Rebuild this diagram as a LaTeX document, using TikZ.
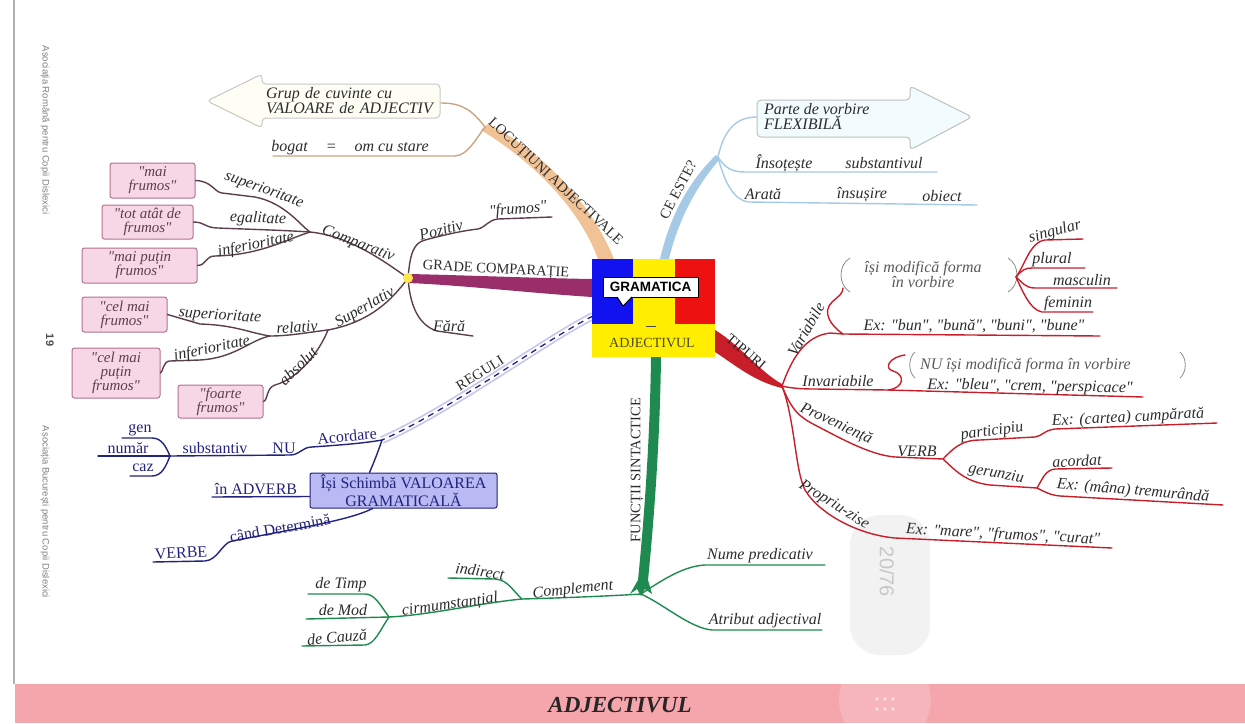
\documentclass[tikz,border=0pt]{standalone}
\usepackage{fontspec}
\setmainfont{Liberation Serif}[Ligatures=TeXOff]
\newfontfamily\sidefont{Liberation Sans}
\usetikzlibrary{calc}

\definecolor{locColor}{HTML}{F0C296}
\definecolor{ceColor}{HTML}{A6CAE6}
\definecolor{gradeColor}{HTML}{9A2E6B}
\definecolor{cmpColor}{HTML}{5C3F4C}
\definecolor{ruleColor}{HTML}{22227F}
\definecolor{ruleBand}{HTML}{C6C6EE}
\definecolor{funcGreen}{HTML}{1F8A4F}
\definecolor{tipColor}{HTML}{C81E2A}
\definecolor{labelGray}{HTML}{2C2C2C}
\definecolor{pinkFill}{HTML}{F7D6E6}
\definecolor{pinkDraw}{HTML}{B2728F}
\definecolor{boxBlue}{HTML}{B9B9F3}
\definecolor{flagBlue}{HTML}{1212F0}
\definecolor{flagYellow}{HTML}{FFEE00}
\definecolor{flagRed}{HTML}{EE1111}
\definecolor{footerPink}{HTML}{F5A5AC}

\tikzset{
  lbl/.style={font=\fontsize{16}{15}\selectfont\itshape, text=labelGray, inner sep=0pt},
  capLbl/.style={font=\fontsize{14.5}{14}\selectfont, text=labelGray, inner sep=0pt},
  ruleLbl/.style={font=\fontsize{16}{15}\selectfont, text=ruleColor, inner sep=0pt},
  subLine/.style={line width=1.4pt, line cap=round},
  locLine/.style={subLine, draw=locColor!85!black},
  ceLine/.style={subLine, draw=ceColor},
  cmpLine/.style={subLine, draw=cmpColor},
  ruleLine/.style={subLine, draw=ruleColor},
  funcLine/.style={subLine, draw=funcGreen},
  tipLine/.style={subLine, draw=tipColor},
  braceLine/.style={line width=0.8pt, draw=black!45},
  exampleBox/.style={draw=pinkDraw, fill=pinkFill, rounded corners=2.5pt, line width=1pt,
    align=center, inner sep=0pt, font=\fontsize{15}{14}\selectfont\itshape, text=cmpColor},
  sideText/.style={rotate=-90, font=\sidefont\fontsize{9.5}{9.5}\selectfont, text=black!50}
}

\begin{document}
\begin{tikzpicture}[x=1pt, y=-1pt]
\useasboundingbox (0,0) rectangle (1245,723);

% page margin, footer and viewer overlay
\draw[black!30, line width=1.5pt] (14,0) -- (14,684);
\fill[footerPink] (15,684) rectangle (1245,723);
\fill[white, opacity=0.18] (885,700) circle[radius=46pt];
\foreach \dx in {-8,0,8}{
  \foreach \dy in {-5,5}{
    \fill[white, opacity=0.6] (885+\dx,704+\dy) circle[radius=1.8pt];
  }
}
\node[font=\fontsize{23}{23}\selectfont\bfseries\itshape, text=black!85] (footerTitle) at (620,705) {ADJECTIVUL};
\fill[black!5, rounded corners=30pt] (850,515) rectangle (930,655);
\node[rotate=-90, font=\sidefont\fontsize{20}{20}\selectfont, text=black!22] (pageNo) at (887,572) {20/76};

% side captions
\node[sideText] (assocRo) at (45,130) {Asociația Română pentru Copii Dislexici};
\node[sideText, font=\sidefont\bfseries\fontsize{11}{11}\selectfont, text=black!70] (pageLeft) at (50,340) {19};
\node[sideText] (assocBuc) at (45,512) {Asociația București pentru Copii Dislexici};

% === Thick main branches ===
% Locutiuni
\fill[locColor] (481,130) .. controls (530,160) and (578,205) .. (598,259)
  -- (614,259) .. controls (590,200) and (540,150) .. (488,124) -- cycle;
\node[capLbl, rotate=-43] (locLbl) at (555,182) {LOCUȚIUNI ADJECTIVALE};
% Ce este
\fill[ceColor] (660,259) .. controls (670,215) and (690,180) .. (716,155)
  -- (720,159) .. controls (697,185) and (678,220) .. (669,259) -- cycle;
\node[capLbl, rotate=62] (ceLbl) at (678,190) {CE ESTE?};
% Grade comparatie
\fill[gradeColor] (592,279) .. controls (530,278) and (460,275) .. (408,274)
  -- (408,283) .. controls (460,285) and (530,293) .. (592,297) -- cycle;
\node[capLbl, rotate=-3] (gradeLbl) at (496,270) {GRADE COMPARAȚIE};
% Reguli
\coordinate (ruleA) at (382,440);
\draw[ruleBand, line width=8pt] (593,316) .. controls (545,340) and (450,410) .. (ruleA);
\draw[white, line width=4.5pt] (593,316) .. controls (545,340) and (450,410) .. (ruleA);
\draw[ruleColor, line width=1.3pt, dash pattern=on 6pt off 5pt] (593,316) .. controls (545,340) and (450,410) .. (ruleA);
\node[capLbl, rotate=32] (ruleLbl) at (480,373) {REGULI};
% Functii sintactice
\fill[funcGreen] (651,357) .. controls (650,440) and (644,520) .. (638,580)
  -- (630,594) -- (637,589) -- (641,596) -- (645,589) -- (652,594) -- (648,580)
  .. controls (654,520) and (660,440) .. (661,357) -- cycle;
\node[capLbl, rotate=90] (funcLbl) at (637,470) {FUNCȚII SINTACTICE};
% Tipuri
\fill[tipColor] (715,330) .. controls (740,345) and (760,372) .. (782,384)
  -- (782,388) .. controls (755,382) and (735,365) .. (715,352) -- cycle;
\node[capLbl, rotate=-40, text=black!85] (tipLbl) at (746,352) {TIPURI};

% === Central picture ===
\fill[flagBlue] (592,259) rectangle (633,324);
\fill[flagYellow] (633,259) rectangle (675,324);
\fill[flagRed] (675,259) rectangle (715,324);
\fill[flagYellow] (592,324) rectangle (715,357);
\draw[black!70, line width=1pt] (646,326) -- (656,326);
\node[draw, fill=white, line width=1pt, minimum width=95, minimum height=20, inner sep=0pt,
  font=\sidefont\bfseries\fontsize{13.5}{13.5}\selectfont] (gramBubble) at (650.5,287) {GRAMATICA};
\fill[white] (617,296) -- (623,306) -- (632,296) -- cycle;
\draw[line width=1pt] (617,297) -- (623,306) -- (632,297);
\node[font=\fontsize{14}{14}\selectfont, text=black!60!olive] (centerLbl) at (652,343) {ADJECTIVUL};

% === Locutiuni adjectivale ===
\coordinate (locJ) at (485,127);
\draw[fill=white!96!yellow, draw=black!22, line width=1pt, rounded corners=4pt]
  (207,101) -- (262,74) -- (262,84) -- (440,84) -- (440,118) -- (262,118) -- (262,128) -- cycle;
\node[lbl, text width=172pt, align=left] (grupBox) at (352,101) {Grup de cuvinte cu\\VALOARE de ADJECTIV};
\draw[locLine] (locJ) .. controls (472,110) and (462,103) .. (441,103);
\draw[locLine] (locJ) .. controls (475,140) and (468,155) .. (455,156) -- (273,156);
\node[lbl] (bogatLbl) at (350,148) {bogat\hspace{18pt}=\hspace{18pt}om cu stare};

% === Ce este ===
\coordinate (ceJ) at (718,157);
\draw[fill=white!95!cyan, draw=black!25, line width=1pt, rounded corners=4pt]
  (757,100) -- (910,100) -- (910,86) -- (972,117) -- (910,150) -- (910,137) -- (757,137) -- cycle;
\node[lbl, align=left, anchor=west] (parteBox) at (764,116) {Parte de vorbire\\FLEXIBILĂ};
\draw[ceLine] (ceJ) .. controls (725,125) and (740,117) .. (757,117);
\draw[ceLine] (ceJ) .. controls (725,168) and (732,172) .. (745,172) -- (937,172);
\node[lbl] (insotLbl) at (784,163) {Însoțește};
\node[lbl] (substLbl) at (884,163) {substantivul};
\draw[ceLine] (ceJ) .. controls (725,185) and (735,200) .. (748,202) -- (977,205);
\node[lbl] (arataLbl) at (763,194) {Arată};
\node[lbl] (insusLbl) at (862,195) {însușire};
\node[lbl] (obiectLbl) at (942,196) {obiect};

% === Grade comparatie ===
\coordinate (gradeJ) at (408,278);
\coordinate (cmpC) at (310,232);
\coordinate (supS) at (328,330);
\coordinate (relR) at (270,336);
\draw[cmpLine] (gradeJ) .. controls (410,255) and (413,243) .. (425,240)
  .. controls (440,236) and (460,231) .. (478,229) .. controls (486,227) and (488,220) .. (498,219) -- (552,217);
\node[lbl, rotate=15] (pozLbl) at (441,230) {Pozitiv};
\node[lbl, rotate=5] (pozEx) at (518,210) {"frumos"};
\draw[cmpLine] (gradeJ) .. controls (410,305) and (418,325) .. (437,331) -- (473,336);
\node[lbl] (faraLbl) at (449,326) {Fără};
\draw[cmpLine] (gradeJ) .. controls (385,262) and (350,236) .. (cmpC);
\node[lbl, rotate=-22] (cmpLbl) at (358,244) {Comparativ};
\draw[cmpLine] (gradeJ) .. controls (392,300) and (370,322) .. (supS);
\node[lbl, rotate=30] (supLbl) at (365,308) {Superlativ};

% Comparativ
\node[exampleBox, minimum width=85, minimum height=35] (boxSupC) at (152.5,180.5) {"mai\\frumos"};
\node[exampleBox, minimum width=91, minimum height=34] (boxEgal) at (147.5,222) {"tot atât de\\frumos"};
\node[exampleBox, minimum width=115, minimum height=35] (boxInfC) at (139.5,265.5) {"mai puțin\\frumos"};
\draw[cmpLine] (cmpC) .. controls (300,225) and (285,203) .. (255,197) -- (222,193)
  .. controls (214,192) and (212,181) .. (boxSupC.east);
\node[lbl, rotate=-20] (supCLbl) at (264,190) {superioritate};
\draw[cmpLine] (cmpC) .. controls (280,230) and (240,229) .. (218,228)
  .. controls (205,228) and (205,222) .. (boxEgal.east);
\node[lbl, rotate=-2] (egalLbl) at (258,219) {egalitate};
\draw[cmpLine] (cmpC) .. controls (285,240) and (260,255) .. (215,256)
  .. controls (205,256) and (207,265) .. (boxInfC.east);
\node[lbl, rotate=12] (infCLbl) at (256,245) {inferioritate};

% Superlativ
\node[exampleBox, minimum width=85, minimum height=35] (boxSupR) at (124.5,314.5) {"cel mai\\frumos"};
\node[exampleBox, minimum width=88, minimum height=50] (boxInfR) at (116,373) {"cel mai\\puțin\\frumos"};
\node[exampleBox, minimum width=85, minimum height=33] (boxAbs) at (220.5,401.5) {"foarte\\frumos"};
\draw[cmpLine] (supS) .. controls (310,332) and (290,336) .. (relR);
\node[lbl, rotate=4] (relLbl) at (297,327) {relativ};
\draw[cmpLine] (relR) .. controls (250,333) and (235,325) .. (200,324) -- (boxSupR.east);
\node[lbl, rotate=-4] (supRLbl) at (220,316) {superioritate};
\draw[cmpLine] (relR) .. controls (250,340) and (235,358) .. (200,360) -- (170,361)
  .. controls (163,361) and (163,372) .. (boxInfR.east);
\node[lbl, rotate=12] (infRLbl) at (212,349) {inferioritate};
\draw[cmpLine] (supS) .. controls (320,350) and (300,378) .. (275,385)
  .. controls (266,388) and (268,400) .. (boxAbs.east);
\node[lbl, rotate=45] (absLbl) at (298,366) {absolut};
\fill[yellow!80!orange!70] (gradeJ) circle[radius=5pt];

% === Reguli ===
\coordinate (numN) at (170,456);
\node[ruleLbl, draw=ruleColor, fill=boxBlue, line width=1pt, rounded corners=2pt, align=center,
  minimum width=187, minimum height=35] (valBox) at (403.5,490.5) {Își Schimbă VALOAREA\\GRAMATICALĂ};
\draw[ruleLine] (ruleA) .. controls (360,444) and (325,446) .. (312,447)
  .. controls (302,447) and (300,455) .. (290,455) -- (numN);
\node[ruleLbl, rotate=5] (acordLbl) at (347,436) {Acordare};
\node[ruleLbl] (nuLbl) at (284,448) {NU};
\node[ruleLbl] (substvLbl) at (215,448) {substantiv};
\draw[ruleLine] (numN) .. controls (166,447) and (162,438) .. (152,438) -- (122,438);
\node[ruleLbl] (genLbl) at (140,430) {gen};
\draw[ruleLine] (numN) -- (98,456);
\node[ruleLbl] (numarLbl) at (128,448) {număr};
\draw[ruleLine] (numN) .. controls (166,466) and (162,476) .. (152,476) -- (130,476);
\node[ruleLbl] (cazLbl) at (143,468) {caz};
\draw[ruleLine] (ruleA) .. controls (378,452) and (374,462) .. ($(valBox.north west)+(60,0)$);
\draw[ruleLine] ($(valBox.west)+(0,6)$) -- (212,497);
\node[ruleLbl] (adverbLbl) at (256,489) {în ADVERB};
\draw[ruleLine] ($(valBox.south west)+(63,0)$) .. controls (350,520) and (300,528) .. (232,541)
  .. controls (222,543) and (218,560) .. (205,561) -- (153,562);
\node[ruleLbl, rotate=10] (candLbl) at (280,528) {când Determină};
\node[ruleLbl, rotate=3] (verbeLbl) at (181,553) {VERBE};

% === Functii sintactice ===
\coordinate (funcF) at (641,594);
\coordinate (cmplK) at (522,599);
\coordinate (circM) at (389,617);
\draw[funcLine] (funcF) .. controls (665,578) and (685,566) .. (705,565) -- (825,565);
\node[lbl] (numeLbl) at (760,556) {Nume predicativ};
\draw[funcLine] (funcF) .. controls (665,605) and (690,628) .. (712,630) -- (822,630);
\node[lbl] (atribLbl) at (765,621) {Atribut adjectival};
\draw[funcLine] (funcF) .. controls (610,596) and (560,598) .. (cmplK);
\node[lbl, rotate=6] (cmplLbl) at (573,590) {Complement};
\draw[funcLine] (cmplK) .. controls (512,590) and (508,580) .. (495,579) -- (448,578);
\node[lbl, rotate=-8] (indirLbl) at (480,571) {indirect};
\draw[funcLine] (cmplK) .. controls (480,603) and (430,615) .. (circM);
\node[lbl, rotate=8] (circLbl) at (450,605) {cirmumstanțial};
\draw[funcLine] (circM) .. controls (380,605) and (375,594) .. (365,594) -- (308,594);
\node[lbl] (timpLbl) at (341,585) {de Timp};
\draw[funcLine] (circM) -- (306,619);
\node[lbl] (modLbl) at (343,610) {de Mod};
\draw[funcLine] (circM) .. controls (380,630) and (375,644) .. (365,645) -- (302,646);
\node[lbl, rotate=5] (cauzaLbl) at (337,637) {de Cauză};

% === Tipuri ===
\coordinate (tipT) at (782,386);
\coordinate (varV) at (843,334);
\coordinate (formB) at (1016,277);
\coordinate (invI) at (888,390);
\coordinate (verbG) at (943,459);
\coordinate (gerH) at (1037,488);
% Variabile
\draw[tipLine] (tipT) .. controls (792,358) and (805,336) .. (830,333) -- (varV) -- (1100,336);
\node[lbl, rotate=60] (varLbl) at (806,329) {Variabile};
\node[lbl] (varEx) at (974,326) {Ex: "bun", "bună", "buni", "bune"};
\draw[tipLine] (varV) .. controls (830,325) and (822,312) .. (832,302) .. controls (840,295) and (843,293) .. (843,288);
\draw[braceLine] (850,258) .. controls (838,265) and (838,285) .. (850,292);
\node[lbl, align=center, text=black!65] (formaLbl) at (923,274) {își modifică forma\\în vorbire};
\draw[braceLine] (1008,258) .. controls (1020,265) and (1020,285) .. (1008,292);
\draw[tipLine] (formB) .. controls (1025,265) and (1030,242) .. (1045,240) -- (1083,239);
\node[lbl, rotate=15] (singLbl) at (1055,232) {singular};
\draw[tipLine] (formB) .. controls (1022,270) and (1025,268) .. (1032,268) -- (1085,268);
\node[lbl] (plurLbl) at (1052,260) {plural};
\draw[tipLine] (formB) .. controls (1022,282) and (1025,288) .. (1035,288) -- (1117,288);
\node[lbl] (mascLbl) at (1082,280) {masculin};
\draw[tipLine] (formB) .. controls (1022,290) and (1030,310) .. (1042,312) -- (1093,312);
\node[lbl] (femLbl) at (1068,304) {feminin};
% Invariabile
\draw[tipLine] (tipT) .. controls (790,388) and (800,389) .. (815,389) -- (invI) -- (1143,397);
\node[lbl] (invLbl) at (838,381) {Invariabile};
\draw[tipLine] (invI) .. controls (905,388) and (905,374) .. (893,371) .. controls (883,368) and (890,357) .. (905,355);
\draw[braceLine] (915,352) .. controls (908,358) and (908,372) .. (915,378);
\node[lbl, anchor=west, text=black!65] (nuFormaLbl) at (920,366) {NU își modifică forma în vorbire};
\draw[braceLine] (1180,352) .. controls (1187,358) and (1187,372) .. (1180,378);
\node[lbl, rotate=-1] (invEx) at (1030,387) {Ex: "bleu", "crem, "perspicace"};
% Provenienta
\draw[tipLine] (tipT) .. controls (790,405) and (795,415) .. (815,425)
  .. controls (840,438) and (870,455) .. (895,457) -- (verbG);
\node[lbl, rotate=-25] (provLbl) at (836,424) {Proveniență};
\node[lbl] (verbLbl) at (917,451) {VERB};
\draw[tipLine] (verbG) .. controls (952,450) and (960,440) .. (980,440) -- (1035,437)
  .. controls (1042,436) and (1045,430) .. (1055,429) -- (1217,423);
\node[lbl, rotate=8] (partLbl) at (992,432) {participiu};
\node[lbl, rotate=3] (partEx) at (1128,418) {Ex: (cartea) cumpărată};
\draw[tipLine] (verbG) .. controls (955,470) and (965,482) .. (990,485) -- (gerH);
\node[lbl, rotate=-10] (gerLbl) at (996,474) {gerunziu};
\draw[tipLine] (gerH) .. controls (1042,480) and (1045,470) .. (1055,469) -- (1112,468);
\node[lbl, rotate=3] (acordatLbl) at (1077,461) {acordat};
\draw[tipLine] (gerH) .. controls (1045,492) and (1050,495) .. (1060,496) -- (1223,505);
\node[lbl, rotate=-5] (gerEx) at (1133,491) {Ex: (mâna) tremurândă};
% Propriu-zise
\draw[tipLine] (tipT) .. controls (795,420) and (795,470) .. (805,490)
  .. controls (820,515) and (860,535) .. (895,538) -- (1112,548);
\node[lbl, rotate=-32] (propLbl) at (834,505) {Propriu-zise};
\node[lbl, rotate=-3] (propEx) at (1003,535) {Ex: "mare", "frumos", "curat"};

\end{tikzpicture}
\end{document}
